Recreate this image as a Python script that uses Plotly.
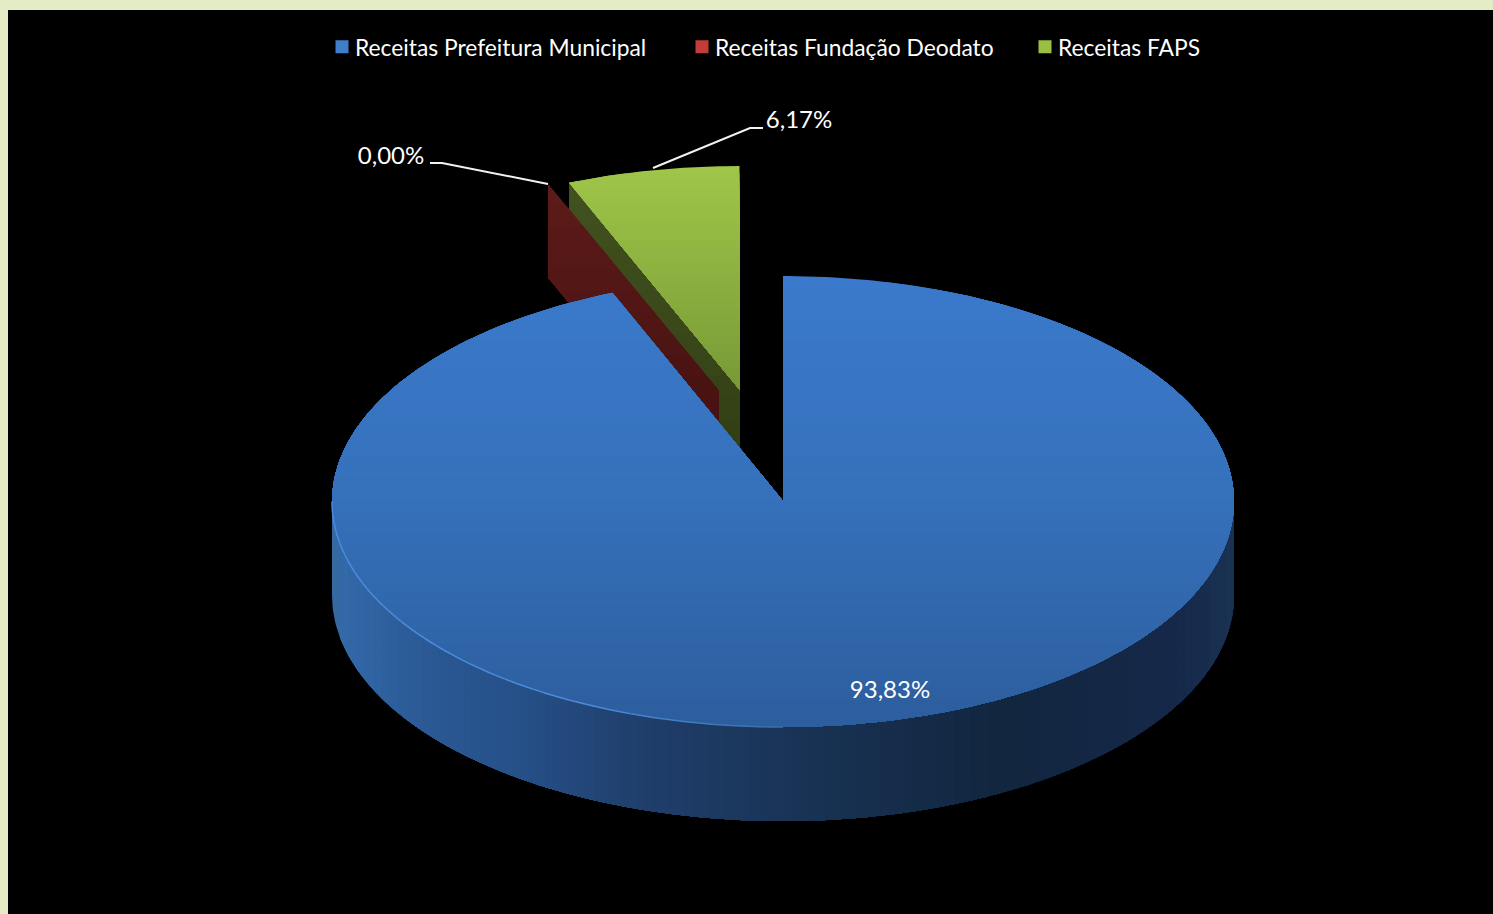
import numpy as np
import plotly.graph_objects as go

# ---- data -------------------------------------------------------------
categories = ["Receitas Prefeitura Municipal", "Receitas Fundação Deodato", "Receitas FAPS"]
values = [93.83, 0.00, 6.17]

# ---- styling / layout constants ---------------------------------------
W, H = 1493, 914
FRAME = "#e3ecc4"
FONT = "Lato"
CX, CY, RX, RY, DEPTH = 783.0, 501.5, 451.0, 225.5, 94.0
APEX_Y = [501.0, 499.5, 499.5]
EXPLODE = [(0, 0), (-64.5, -109), (-43.5, -110)]
LEGEND_COLORS = ["#3f7fca", "#c43c3a", "#9bbf40"]
LEGEND_TEXT_X = [355, 715, 1058]
LABEL_POS = [(890, 692), (391, 158), (799, 122)]
LEADERS = [None, [(430, 163), (442, 163), (548, 184)], [(653, 168), (750, 128), (763, 128)]]

TOP_GRAD = [
    [(276, "#3b7acc"), (500, "#3671bb"), (727, "#2d5e9e")],
    None,
    [(165, "#a0c749"), (389, "#789a37")],
]
CUT_GRAD = [
    None,
    [(184, "#5d1c1a"), (486, "#400f0e")],
    [(182, "#435220"), (483, "#303d14")],
]
WALL_STOPS = [(332, "#36699f"), (345, "#3369a9"), (420, "#2b5a96"), (520, "#265088"),
              (640, "#203f6c"), (780, "#1a3558"), (1000, "#12263f"), (1180, "#16294a"), (1234, "#1b3353")]
RIM_STOPS = [(332, "#4c8ddb"), (600, "#4c8ddb"), (780, "#3a6fb0"), (900, "#2e5f9f")]


def hex2rgb(c):
    return np.array([int(c[i:i + 2], 16) for i in (1, 3, 5)], dtype=float)


def color_at(stops, v):
    xs = [s[0] for s in stops]
    rgb = np.array([hex2rgb(s[1]) for s in stops])
    return "rgb(%d,%d,%d)" % tuple(np.interp(v, xs, rgb[:, i]) for i in range(3))


def clip(poly, axis, limit):
    """Keep the part of a polygon whose coordinate on `axis` is >= limit."""
    out = []
    n = len(poly)
    for i in range(n):
        a, b = poly[i], poly[(i + 1) % n]
        ina, inb = a[axis] >= limit, b[axis] >= limit
        if ina:
            out.append(a)
        if ina != inb:
            t = (limit - a[axis]) / (b[axis] - a[axis])
            out.append((a[0] + t * (b[0] - a[0]), a[1] + t * (b[1] - a[1])))
    return out


def rim(t, dx=0.0, dy=0.0):
    return CX + dx + RX * np.sin(t), CY + dy - RY * np.cos(t)


def add_poly(fig, poly, color):
    if len(poly) < 3:
        return
    xs = [p[0] for p in poly] + [poly[0][0]]
    ys = [p[1] for p in poly] + [poly[0][1]]
    fig.add_trace(go.Scatter(x=xs, y=ys, mode="lines", fill="toself", fillcolor=color,
                             line=dict(width=0, color=color), hoverinfo="skip", showlegend=False))


def add_gradient(fig, poly, stops, axis, n):
    lo, hi = min(p[axis] for p in poly), max(p[axis] for p in poly)
    for lim in np.linspace(lo, hi, n, endpoint=False):
        add_poly(fig, clip(poly, axis, lim), color_at(stops, lim + (hi - lo) / (2 * n)))


fracs = np.array(values) / sum(values)
ends = np.cumsum(fracs) * 2 * np.pi
starts = np.concatenate([[0], ends[:-1]])

fig = go.Figure()

# cut faces of the exploded slices (FAPS behind Fundação), then top faces
for i in (2, 1):
    dx, dy = EXPLODE[i]
    outer = rim(starts[i], dx, dy)
    apex = (CX + dx, APEX_Y[i] + dy)
    face = [outer, apex, (apex[0], apex[1] + DEPTH), (outer[0], outer[1] + DEPTH)]
    add_gradient(fig, face, CUT_GRAD[i], 1, 14)
    if fracs[i] > 0:
        ts = np.linspace(starts[i], ends[i], 60)
        top = [apex] + [rim(t, dx, dy) for t in ts]
        add_gradient(fig, top, TOP_GRAD[i], 1, 30)

# big slice: front wall, then top face, then lit rim
ts = np.linspace(np.pi / 2, 3 * np.pi / 2, 240)
front = [rim(t) for t in ts]
wall = front + [(x, y + DEPTH) for x, y in reversed(front)]
add_gradient(fig, wall, WALL_STOPS, 0, 110)

ts = np.linspace(starts[0], ends[0], 500)
top = [(CX, APEX_Y[0])] + [rim(t) for t in ts]
add_gradient(fig, top, TOP_GRAD[0], 1, 70)

ts = np.linspace(np.pi, 3 * np.pi / 2, 60)
pts = [rim(t) for t in ts]
for a, b in zip(pts[:-1], pts[1:]):
    fig.add_trace(go.Scatter(x=[a[0], b[0]], y=[a[1], b[1]], mode="lines",
                             line=dict(width=1.5, color=color_at(RIM_STOPS, a[0])),
                             hoverinfo="skip", showlegend=False))

# leader lines
for seg in LEADERS:
    if seg:
        fig.add_trace(go.Scatter(x=[p[0] for p in seg], y=[p[1] for p in seg], mode="lines",
                                 line=dict(width=2, color="#f2f2f2"),
                                 hoverinfo="skip", showlegend=False))

# data labels
fig.add_trace(go.Scatter(
    x=[p[0] for p in LABEL_POS], y=[p[1] for p in LABEL_POS], mode="text",
    text=[f"{v:.2f}".replace(".", ",") + "%" for v in values],
    textposition="middle center", textfont=dict(family=FONT, size=24, color="#ffffff"),
    hoverinfo="skip", showlegend=False))

# legend entries, one positioned legend for each
legend_names = ["legend", "legend2", "legend3"]
for name, cat, col in zip(legend_names, categories, LEGEND_COLORS):
    fig.add_trace(go.Scatter(x=[None], y=[None], mode="markers", name=cat, legend=name,
                             marker=dict(symbol="square", size=13, color=col)))

legends = {
    name: dict(x=(tx - 40) / W, xref="container", xanchor="left",
               y=1 - 47 / H, yref="container", yanchor="middle",
               bgcolor="rgba(0,0,0,0)", borderwidth=0,
               font=dict(family=FONT, size=22.8, color="#ffffff"), itemclick=False, itemdoubleclick=False)
    for name, tx in zip(legend_names, LEGEND_TEXT_X)
}

fig.update_layout(
    width=W, height=H, autosize=False,
    margin=dict(l=8, r=0, t=10, b=0, pad=0, autoexpand=False),
    paper_bgcolor=FRAME, plot_bgcolor="#000000",
    xaxis=dict(range=[8, W], visible=False, fixedrange=True),
    yaxis=dict(range=[H, 10], visible=False, fixedrange=True),
    showlegend=True,
    **legends,
)

fig.write_html(
    "out.html", config={"displayModeBar": False},
    post_script=("document.body.style.margin='0';document.body.style.overflow='hidden';"
                 "document.querySelectorAll('.legendsymbols').forEach(function(g){"
                 "g.setAttribute('transform','translate(7,0)');});"))
